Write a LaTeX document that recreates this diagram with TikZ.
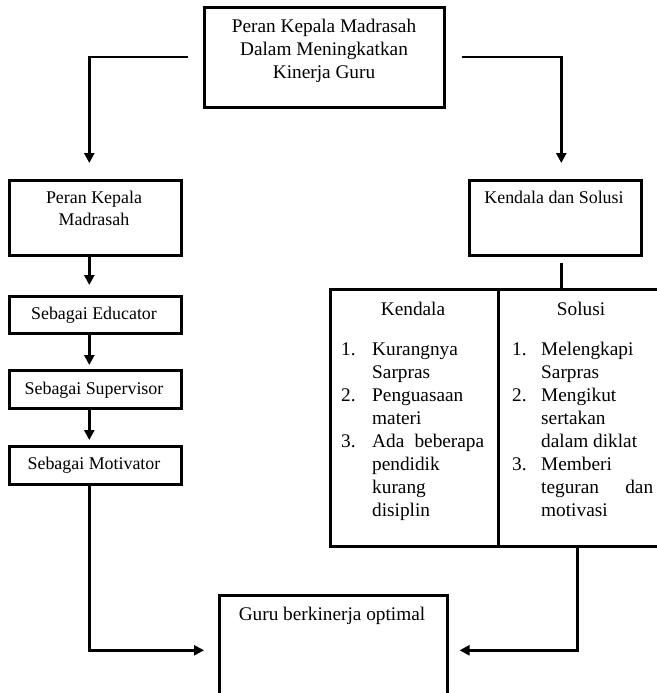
\documentclass[tikz,border=0pt]{standalone}
\usepackage{fontspec}
\setmainfont{Liberation Serif}
\usetikzlibrary{arrows.meta}
\begin{document}
\begin{tikzpicture}[x=1pt,y=-1pt,
  box/.style={draw, line width=2.6pt, inner sep=0pt, anchor=north west},
  conn/.style={line width=2.4pt},
  arr/.style={line width=2.4pt, -{Triangle[length=10pt,width=10pt]}},
  big/.style={font=\fontsize{19.3}{23}\selectfont, inner sep=0pt, anchor=base},
  small/.style={font=\fontsize{17.9}{22}\selectfont, inner sep=0pt, anchor=base},
  item/.style={font=\fontsize{19.3}{23}\selectfont, inner sep=0pt, anchor=base west}]
\useasboundingbox (0,0) rectangle (656,693);
% boxes
\node[box, minimum width=240pt, minimum height=100pt] (top) at (203,6) {};
\node[box, minimum width=172pt, minimum height=75pt] (peran) at (8,179) {};
\node[box, minimum width=172pt, minimum height=75pt] (ks) at (468,179) {};
\node[box, minimum width=172pt, minimum height=37pt] (edu) at (8,295) {};
\node[box, minimum width=172pt, minimum height=38pt] (sup) at (8,369) {};
\node[box, minimum width=172pt, minimum height=38pt] (mot) at (8,445) {};
\node[box, minimum width=168pt, minimum height=257pt] (kend) at (329,288) {};
\node[box, minimum width=166pt, minimum height=257pt] (sol) at (497,288) {};
\node[box, minimum width=228pt, minimum height=110pt] (guru) at (218,594) {};
% texts
\node[big] (top1) at (324,33) {Peran Kepala Madrasah};
\node[big] (top2) at (324,56) {Dalam Meningkatkan};
\node[big] (top3) at (324,78) {Kinerja Guru};
\node[small] (pk1) at (94,203) {Peran Kepala};
\node[small] (pk2) at (94,225) {Madrasah};
\node[small] (ks1) at (554,203) {Kendala dan Solusi};
\node[small] (edut) at (94,319) {Sebagai Educator};
\node[small] (supt) at (94,394) {Sebagai Supervisor};
\node[small] (mott) at (94,469) {Sebagai Motivator};
\node[big] (gurut) at (332,620) {Guru berkinerja optimal};
\node[big] (kendt) at (413,315) {Kendala};
\node[big] (solt) at (581,315) {Solusi};
% Kendala list
\node[item] (kn1) at (341,355) {1.};
\node[item] (k1a) at (372,355) {Kurangnya};
\node[item] (k1b) at (372,378) {Sarpras};
\node[item] (kn2) at (341,401) {2.};
\node[item] (k2a) at (372,401) {Penguasaan};
\node[item] (k2b) at (372,424) {materi};
\node[item] (kn3) at (341,447) {3.};
\node[item] (k3a) at (372,447) {\hbox to 112pt{Ada\hfill beberapa}};
\node[item] (k3b) at (372,470) {pendidik};
\node[item] (k3c) at (372,493) {kurang};
\node[item] (k3d) at (372,516) {disiplin};
% Solusi list
\node[item] (sn1) at (512,355) {1.};
\node[item] (s1a) at (541,355) {Melengkapi};
\node[item] (s1b) at (541,378) {Sarpras};
\node[item] (sn2) at (512,401) {2.};
\node[item] (s2a) at (541,401) {Mengikut};
\node[item] (s2b) at (541,424) {sertakan};
\node[item] (s2c) at (541,447) {dalam diklat};
\node[item] (sn3) at (512,470) {3.};
\node[item] (s3a) at (541,470) {Memberi};
\node[item] (s3b) at (541,493) {\hbox to 112pt{teguran\hfill dan}};
\node[item] (s3c) at (541,516) {motivasi};
% connectors
\draw[arr, shorten >=16pt] ([xshift=-15pt]top.west) -| ([xshift=-6pt]peran.north);
\draw[arr, shorten >=16pt] ([xshift=16pt]top.east) -| ([xshift=6pt]ks.north);
\draw[arr, shorten >=10pt] ([xshift=-6pt]peran.south) -- ([xshift=-6pt]edu.north);
\draw[arr, shorten >=4pt] ([xshift=-6pt]edu.south) -- ([xshift=-6pt]sup.north);
\draw[arr, shorten >=5pt] ([xshift=-6pt]sup.south) -- ([xshift=-6pt]mot.north);
\draw[arr, shorten >=14pt] ([xshift=-6pt]mot.south) |- (guru.west);
\draw[conn] ([shift={(6pt,-6pt)}]ks.south) -- ([xshift=6pt]ks.south |- kend.north);
\draw[arr, shorten >=11pt] ([xshift=-4pt]sol.south) |- (guru.east);
\end{tikzpicture}
\end{document}
